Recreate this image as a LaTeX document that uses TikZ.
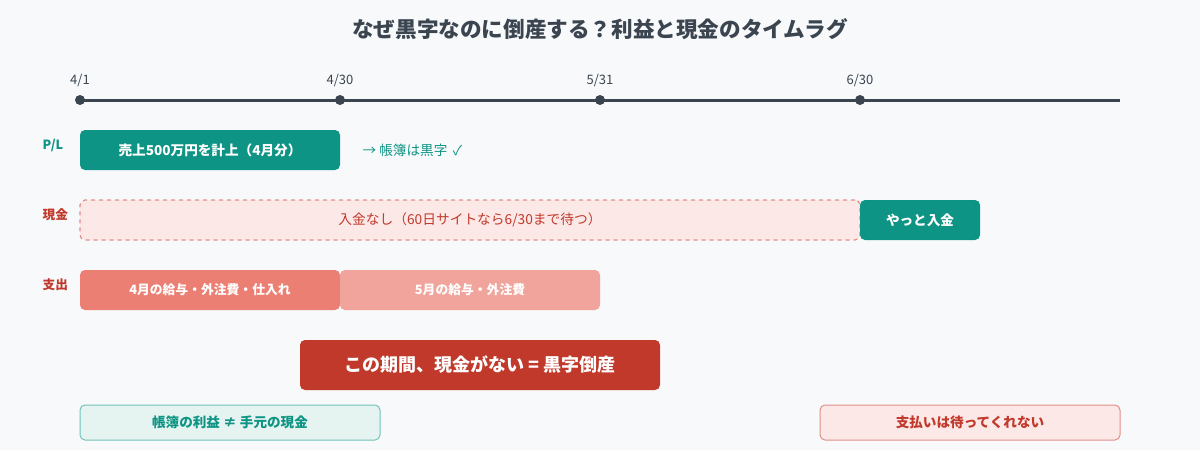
\documentclass[tikz,border=0pt]{standalone}
\usepackage{fontspec}
\setmainfont{Noto Sans CJK JP}
\definecolor{bg}{HTML}{F8F9FB}
\definecolor{ink}{HTML}{3A4550}
\definecolor{teal}{HTML}{0E9484}
\definecolor{crimson}{HTML}{C0392B}
\definecolor{exp1}{HTML}{EC7F73}
\definecolor{exp2}{HTML}{F0A49B}
\definecolor{pinkfill}{HTML}{FDE8E8}
\definecolor{pinkline}{HTML}{E0908A}
\definecolor{mintfill}{HTML}{E6F4F1}
\definecolor{mintline}{HTML}{72C3B9}
\tikzset{
  box/.style={rectangle, rounded corners=3.75pt, inner sep=0pt, minimum height=30pt, font=\bfseries\fontsize{10.2}{12}\selectfont},
  tealbox/.style={box, fill=teal, text=white},
  rowlabel/.style={font=\bfseries\fontsize{9.5}{11}\selectfont, anchor=west},
  datelabel/.style={font=\fontsize{9.75}{11}\selectfont, text=ink},
  tdot/.style={circle, fill=ink, inner sep=0pt, minimum size=7.5pt},
  tline/.style={draw=ink, line width=2.25pt},
}
\begin{document}
\begin{tikzpicture}[x=0.75pt, y=-0.75pt]
\useasboundingbox[fill=bg] (0,0) rectangle (1200,450);
% title
\node[font=\bfseries\fontsize{16.2}{19}\selectfont, text=ink] (title) at (600,29) {なぜ黒字なのに倒産する？利益と現金のタイムラグ};
% timeline
\coordinate (t1) at (80,100);
\coordinate (t2) at (340,100);
\coordinate (t3) at (600,100);
\coordinate (t4) at (860,100);
\coordinate (tend) at (1120,100);
\draw[tline] (t1) -- (t2) -- (t3) -- (t4) -- (tend);
\node[tdot] (d1) at (t1) {};
\node[tdot] (d2) at (t2) {};
\node[tdot] (d3) at (t3) {};
\node[tdot] (d4) at (t4) {};
\node[datelabel] (l1) at (80,80) {4/1};
\node[datelabel] (l2) at (340,80) {4/30};
\node[datelabel] (l3) at (600,80) {5/31};
\node[datelabel] (l4) at (860,80) {6/30};
% P/L row
\node[rowlabel, text=teal] (pl) at (38,146) {P/L};
\node[tealbox, minimum width=195pt] (sales) at (210,150) {売上500万円を計上（4月分）};
\node[anchor=west, text=teal, font=\fontsize{10.2}{12}\selectfont] (black) at (358,150) {→ 帳簿は黒字\hspace{0.4em}✓};
% cash row
\node[rowlabel, text=crimson] (cash) at (38,215) {現金};
\node[box, fill=pinkfill, draw=pinkline, dashed, line width=0.9pt, text=crimson, minimum width=585pt, font=\fontsize{10.3}{12}\selectfont] (nocash) at (470,220) {入金なし（60日サイトなら6/30まで待つ）};
\node[tealbox, minimum width=90pt] (paid) at (920,220) {やっと入金};
% expense row
\node[rowlabel, text=crimson] (out) at (38,285) {支出};
\node[box, fill=exp1, text=white, minimum width=195pt, font=\bfseries\fontsize{9.6}{11}\selectfont] (apr) at (210,290) {4月の給与・外注費・仕入れ};
\node[box, fill=exp2, text=white, minimum width=195pt, font=\bfseries\fontsize{9.6}{11}\selectfont] (may) at (470,290) {5月の給与・外注費};
% red banner
\node[box, fill=crimson, text=white, minimum width=270pt, minimum height=37.5pt, font=\bfseries\fontsize{13.5}{16}\selectfont] (gap) at (480,365) {この期間、現金がない = 黒字倒産};
% bottom notes
\node[box, fill=mintfill, draw=mintline, line width=0.75pt, text=teal, minimum width=225pt, minimum height=26.25pt] (note1) at (230,422.5) {帳簿の利益 ≠ 手元の現金};
\node[box, fill=pinkfill, draw=pinkline, line width=0.75pt, text=crimson, minimum width=225pt, minimum height=26.25pt] (note2) at (970,422.5) {支払いは待ってくれない};
\end{tikzpicture}
\end{document}
